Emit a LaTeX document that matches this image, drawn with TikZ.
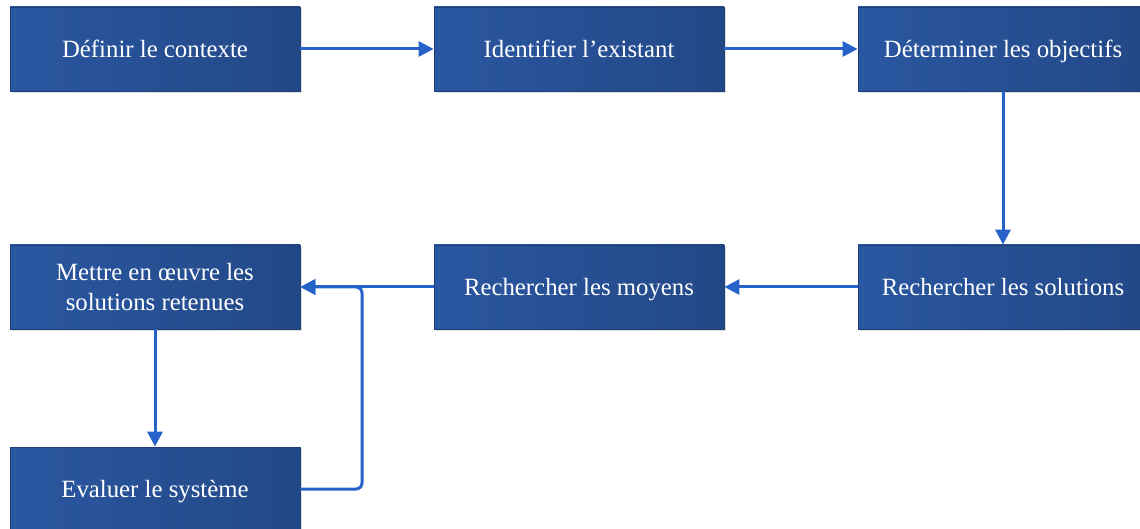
\documentclass[tikz,border=0pt]{standalone}
\usepackage{fontspec}
\setmainfont{Liberation Serif}
\usetikzlibrary{shapes,arrows}
\usetikzlibrary{arrows.meta,shadows}
\definecolor{boxlight}{HTML}{2A57A1}
\definecolor{boxdark}{HTML}{234887}
\definecolor{boxedge}{HTML}{203F78}
\definecolor{flowblue}{HTML}{2563C8}
\tikzstyle{block} = [rectangle, draw=boxedge, left color=boxlight, right color=boxdark,
    drop shadow={shadow xshift=1pt, shadow yshift=-1pt, opacity=0.25},
    minimum width=145pt, minimum height=42pt, text centered, text=white,
    text height=9.6pt, text depth=1.2pt,
    font=\fontsize{12.4}{15}\selectfont, align=center]
\tikzstyle{line} = [draw=flowblue, line width=1.5pt, -{Triangle[length=7.5pt, width=7.5pt]}]

\begin{document}
\begin{tikzpicture}[x=0.5pt, y=-0.5pt]
      \useasboundingbox (0,0) rectangle (1140,529);
      \node [block] (a) at (155, 49) {Définir le contexte};
      \node [block] (b) at (579, 49) {Identifier l’existant};
      \node [block] (c) at (1003, 49) {Déterminer les objectifs};
      \node [block, text height=24.7pt] (d) at (155, 287) {Mettre en œuvre les\\solutions retenues};
      \node [block] (e) at (579, 287) {Rechercher les moyens};
      \node [block] (f) at (1003, 287) {Rechercher les solutions};
      \node [block] (g) at (155, 489) {Evaluer le système};
      \coordinate (k) at (362, 287);
      \path [line] (a) -- (b);
      \path [line] (b) -- (c);
      \path [line] (c) -- (f);
      \path [line] (f) -- (e);
      \path [line] (e) -- (d);
      \path [line] (d) -- (g);
      \path [line, rounded corners=3pt] (g.east) -| (k) -- (d.east);
  \end{tikzpicture}
\end{document}
